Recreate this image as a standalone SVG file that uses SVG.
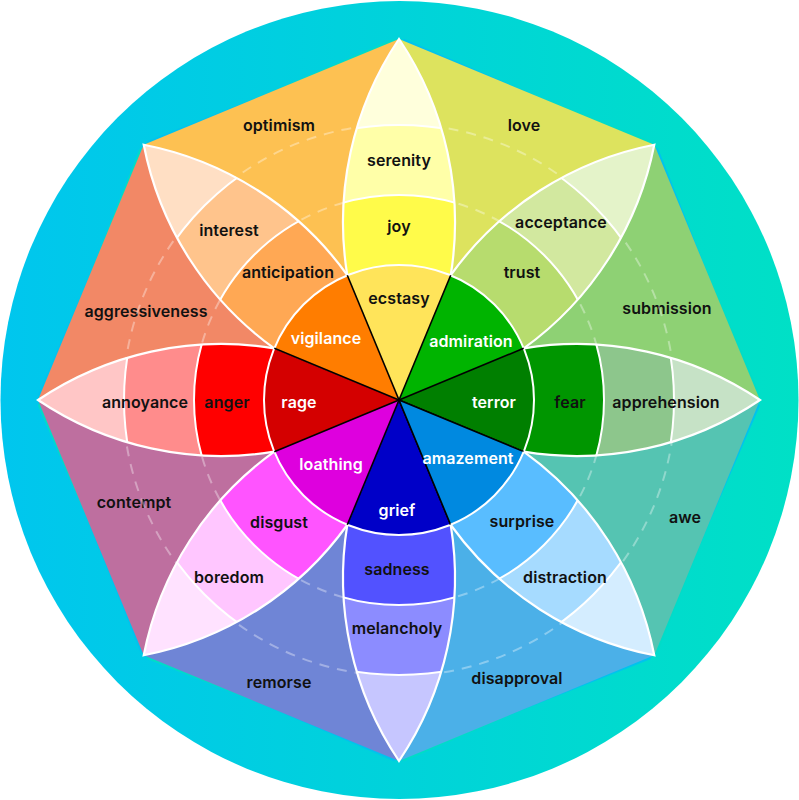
<svg xmlns="http://www.w3.org/2000/svg" xmlns:xlink="http://www.w3.org/1999/xlink" width="799" height="800" viewBox="0 0 799 800">
<style>
.lbl{font-family:Inter,"Open Sans","Liberation Sans",sans-serif;font-size:16px;font-weight:600;text-anchor:middle;fill:#111;letter-spacing:0.1px}
.w{fill:#fff}
.bl{fill:none;stroke:#fff;stroke-width:2}
.po{fill:none;stroke:#fff;stroke-width:2.2;stroke-linejoin:miter}
.dash{fill:none;stroke:#fff;stroke-opacity:0.35;stroke-width:2;stroke-dasharray:10 8}
.div{stroke:#000;stroke-width:1.6}
</style>
<defs>
<linearGradient id="ring" x1="0" y1="0" x2="1" y2="0">
<stop offset="0" stop-color="#00c6ee"/>
<stop offset="1" stop-color="#00e0c6"/>
</linearGradient>
<path id="petal" d="M0,0 L51.7,-124.7 A328,328 0 0 0 0,-361 A328,328 0 0 0 -51.7,-124.7 Z"/>
<path id="petalEdge" d="M51.7,-124.7 A328,328 0 0 0 0,-361 A328,328 0 0 0 -51.7,-124.7"/>
<clipPath id="pc"><use xlink:href="#petal"/></clipPath>
</defs>

<g id="background">
<circle cx="399.5" cy="400" r="399" fill="url(#ring)"/>
<polygon points="399,39 654.3,144.7 760,400 654.3,655.3 399,761 143.7,655.3 38,400 143.7,144.7" fill="#00dcc8" transform="rotate(-0.9 399 400)"/>
<polygon points="399,39 654.3,144.7 760,400 654.3,655.3 399,761 143.7,655.3 38,400 143.7,144.7" fill="#00c3ee" transform="rotate(0.9 399 400)"/>
</g>

<g id="dyad-optimism"><polygon points="399,400 143.7,144.7 399,39" fill="#fdc152"/><text class="lbl" x="279" y="131">optimism</text></g>
<g id="dyad-love"><polygon points="399,400 399,39 654.3,144.7" fill="#dde35e"/><text class="lbl" x="524" y="131">love</text></g>
<g id="dyad-submission"><polygon points="399,400 654.3,144.7 760,400" fill="#8ed174"/><text class="lbl" x="667" y="314">submission</text></g>
<g id="dyad-awe"><polygon points="399,400 760,400 654.3,655.3" fill="#55c4b2"/><text class="lbl" x="685" y="523">awe</text></g>
<g id="dyad-disapproval"><polygon points="399,400 654.3,655.3 399,761" fill="#4bb0e8"/><text class="lbl" x="517" y="684">disapproval</text></g>
<g id="dyad-remorse"><polygon points="399,400 399,761 143.7,655.3" fill="#6f85d6"/><text class="lbl" x="279" y="688">remorse</text></g>
<g id="dyad-contempt"><polygon points="399,400 143.7,655.3 38,400" fill="#be6f9f"/><text class="lbl" x="134" y="508">contempt</text></g>
<g id="dyad-aggressiveness"><polygon points="399,400 38,400 143.7,144.7" fill="#f28866"/><text class="lbl" x="146" y="317">aggressiveness</text></g>

<g id="guides">
<circle cx="399" cy="400" r="205" class="dash"/>
<circle cx="399" cy="400" r="276" class="dash"/>
</g>

<g id="petal-joy">
<g transform="translate(399,400)">
<g clip-path="url(#pc)"><rect x="-80" y="-370" width="160" height="380" fill="#ffffdc"/><circle r="275" fill="#ffffa8"/><circle r="205" fill="#fffb4a"/><circle r="135" fill="#ffe45a"/><circle r="275" class="bl"/><circle r="205" class="bl"/></g>
<use xlink:href="#petalEdge" class="po"/>
</g>
<text class="lbl" x="399" y="166">serenity</text><text class="lbl" x="399" y="232">joy</text><text class="lbl" x="399" y="304">ecstasy</text>
</g>

<g id="petal-trust">
<g transform="translate(399,400) rotate(45)">
<g clip-path="url(#pc)"><rect x="-80" y="-370" width="160" height="380" fill="#e4f3c9"/><circle r="275" fill="#d2e89f"/><circle r="205" fill="#b7dc6e"/><circle r="135" fill="#00b400"/><circle r="275" class="bl"/><circle r="205" class="bl"/></g>
<use xlink:href="#petalEdge" class="po"/>
</g>
<text class="lbl" x="561" y="228">acceptance</text><text class="lbl" x="522" y="278">trust</text><text class="lbl w" x="471" y="347">admiration</text>
</g>

<g id="petal-fear">
<g transform="translate(399,400) rotate(90)">
<g clip-path="url(#pc)"><rect x="-80" y="-370" width="160" height="380" fill="#c6e2c6"/><circle r="275" fill="#8dc68c"/><circle r="205" fill="#009600"/><circle r="135" fill="#007f00"/><circle r="275" class="bl"/><circle r="205" class="bl"/></g>
<use xlink:href="#petalEdge" class="po"/>
</g>
<text class="lbl" x="666" y="408">apprehension</text><text class="lbl" x="570" y="408">fear</text><text class="lbl w" x="494" y="408">terror</text>
</g>

<g id="petal-sadness">
<g transform="translate(399,400) rotate(180)">
<g clip-path="url(#pc)"><rect x="-80" y="-370" width="160" height="380" fill="#c6c6ff"/><circle r="275" fill="#8c8cff"/><circle r="205" fill="#5252ff"/><circle r="135" fill="#0000c8"/><circle r="275" class="bl"/><circle r="205" class="bl"/></g>
<use xlink:href="#petalEdge" class="po"/>
</g>
<text class="lbl" x="397" y="634">melancholy</text><text class="lbl" x="397" y="575">sadness</text><text class="lbl w" x="397" y="516">grief</text>
</g>

<g id="petal-disgust">
<g transform="translate(399,400) rotate(225)">
<g clip-path="url(#pc)"><rect x="-80" y="-370" width="160" height="380" fill="#ffe2ff"/><circle r="275" fill="#ffc6ff"/><circle r="205" fill="#ff54ff"/><circle r="135" fill="#de00de"/><circle r="275" class="bl"/><circle r="205" class="bl"/></g>
<use xlink:href="#petalEdge" class="po"/>
</g>
<text class="lbl" x="229" y="583">boredom</text><text class="lbl" x="279" y="528">disgust</text><text class="lbl w" x="331" y="470">loathing</text>
</g>

<g id="petal-anger">
<g transform="translate(399,400) rotate(270)">
<g clip-path="url(#pc)"><rect x="-80" y="-370" width="160" height="380" fill="#ffc6c6"/><circle r="275" fill="#ff8c8c"/><circle r="205" fill="#ff0000"/><circle r="135" fill="#d40000"/><circle r="275" class="bl"/><circle r="205" class="bl"/></g>
<use xlink:href="#petalEdge" class="po"/>
</g>
<text class="lbl" x="145" y="408">annoyance</text><text class="lbl" x="227" y="408">anger</text><text class="lbl w" x="299" y="408">rage</text>
</g>

<g id="petal-anticipation">
<g transform="translate(399,400) rotate(315)">
<g clip-path="url(#pc)"><rect x="-80" y="-370" width="160" height="380" fill="#ffdfc4"/><circle r="275" fill="#ffc48c"/><circle r="205" fill="#ffa854"/><circle r="135" fill="#ff7d00"/><circle r="275" class="bl"/><circle r="205" class="bl"/></g>
<use xlink:href="#petalEdge" class="po"/>
</g>
<text class="lbl" x="229" y="236">interest</text><text class="lbl" x="288" y="278">anticipation</text><text class="lbl w" x="326" y="344">vigilance</text>
</g>

<g id="connectors" transform="translate(399,400)">
<circle r="135" class="bl"/>
<g class="div">
<line x1="0" y1="0" x2="51.7" y2="-124.7"/>
<line x1="0" y1="0" x2="124.7" y2="-51.7"/>
<line x1="0" y1="0" x2="124.7" y2="51.7"/>
<line x1="0" y1="0" x2="51.7" y2="124.7"/>
<line x1="0" y1="0" x2="-51.7" y2="124.7"/>
<line x1="0" y1="0" x2="-124.7" y2="51.7"/>
<line x1="0" y1="0" x2="-124.7" y2="-51.7"/>
<line x1="0" y1="0" x2="-51.7" y2="-124.7"/>
</g>
</g>

<g id="petal-surprise">
<g transform="translate(399,400) rotate(135)">
<g clip-path="url(#pc)"><rect x="-80" y="-370" width="160" height="380" fill="#d4edff"/><circle r="275" fill="#a6dbff"/><circle r="205" fill="#59bdff"/><circle r="135" fill="#0089e0"/><circle r="275" class="bl"/><circle r="205" class="bl"/></g>
<use xlink:href="#petalEdge" class="po"/>
<path d="M0,0 L51.7,-124.7 M0,0 L-51.7,-124.7" class="div"/>
<path d="M51.7,-124.7 A135,135 0 0 0 -51.7,-124.7" class="bl"/>
</g>
<text class="lbl" x="565" y="583">distraction</text><text class="lbl" x="522" y="527">surprise</text><text class="lbl w" x="468" y="464">amazement</text>
</g>
</svg>
